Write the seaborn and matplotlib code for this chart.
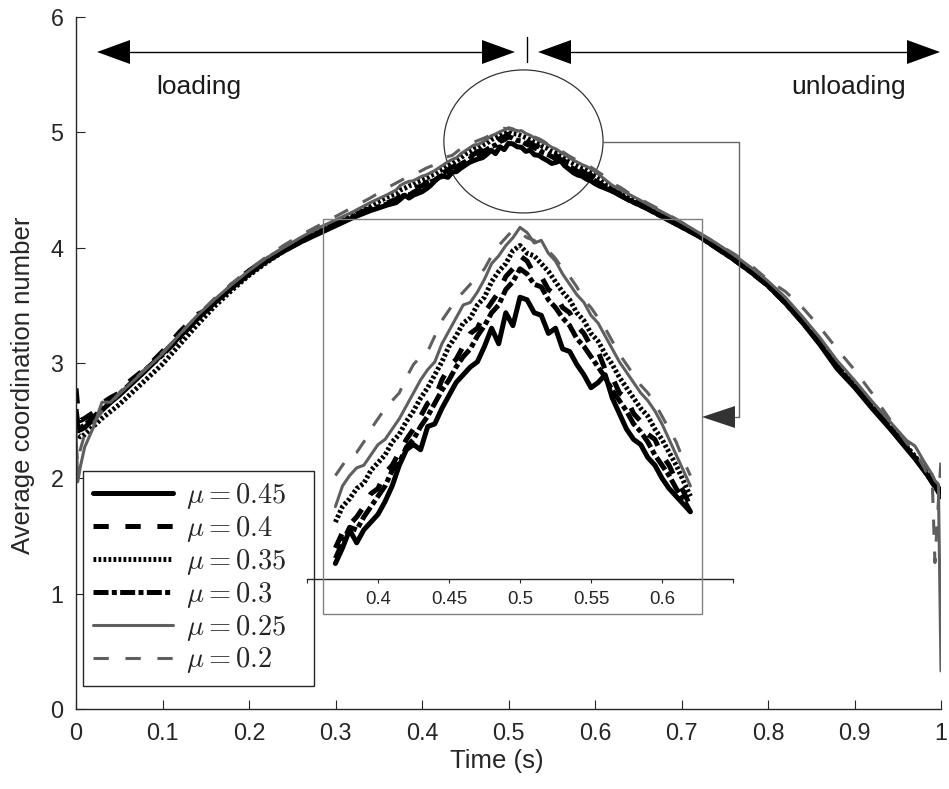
import numpy as np
import pandas as pd
import matplotlib
matplotlib.use("Agg")
import matplotlib.pyplot as plt
import seaborn as sns
from matplotlib.patches import Ellipse, Rectangle, Polygon
from matplotlib.lines import Line2D

# ---------------- data ----------------
time_left = [0, 0.002, 0.005, 0.01, 0.02, 0.03, 0.04, 0.05, 0.06, 0.08, 0.10, 0.12,
             0.14, 0.16, 0.18, 0.20, 0.22, 0.24, 0.26, 0.28, 0.30, 0.32, 0.34, 0.36]
time_mid = [0.370, 0.375, 0.380, 0.385, 0.390, 0.395, 0.400, 0.405, 0.410, 0.415,
            0.420, 0.425, 0.430, 0.435, 0.440, 0.445, 0.450, 0.455, 0.460, 0.465,
            0.470, 0.475, 0.480, 0.485, 0.490, 0.495, 0.500, 0.505, 0.510, 0.515,
            0.520, 0.525, 0.530, 0.535, 0.540, 0.545, 0.550, 0.555, 0.560, 0.565,
            0.570, 0.575, 0.580, 0.585, 0.590, 0.595, 0.600, 0.605, 0.610, 0.615, 0.620]
time_right = [0.63, 0.64, 0.66, 0.68, 0.70, 0.72, 0.74, 0.76, 0.78, 0.80, 0.82, 0.84,
              0.86, 0.88, 0.90, 0.92, 0.94, 0.96, 0.97, 0.98, 0.99, 0.993, 0.997, 1.0]

mu_labels = ["0.45", "0.4", "0.35", "0.3", "0.25", "0.2"]

cn_mu045 = ([2.55, 2.45, 2.42, 2.44, 2.51, 2.59, 2.66, 2.72, 2.79, 2.93, 3.08, 3.23,
             3.38, 3.52, 3.65, 3.77, 3.88, 3.97, 4.05, 4.12, 4.19, 4.26, 4.32, 4.37]
            + [4.39, 4.42, 4.455, 4.43, 4.455, 4.47, 4.485, 4.51, 4.54, 4.58,
               4.61, 4.62, 4.61, 4.655, 4.66, 4.69, 4.715, 4.74, 4.755, 4.77,
               4.78, 4.81, 4.845, 4.815, 4.875, 4.85, 4.905, 4.90, 4.875, 4.87,
               4.835, 4.845, 4.805, 4.80, 4.775, 4.755, 4.73, 4.74, 4.755, 4.71,
               4.68, 4.65, 4.63, 4.62, 4.595, 4.58, 4.555, 4.535, 4.52, 4.505, 4.49]
            + [4.45, 4.41, 4.34, 4.26, 4.18, 4.10, 4.00, 3.90, 3.79, 3.67, 3.52, 3.35,
               3.16, 2.95, 2.79, 2.61, 2.44, 2.26, 2.17, 2.07, 1.97, 1.93, 1.88, 1.84])
cn_mu040 = ([2.78, 2.62, 2.50, 2.52, 2.57, 2.65, 2.70, 2.74, 2.83, 2.95, 3.10, 3.27,
             3.42, 3.49, 3.68, 3.80, 3.90, 3.99, 4.06, 4.15, 4.22, 4.28, 4.34, 4.39]
            + [4.42, 4.45, 4.465, 4.48, 4.50, 4.525, 4.535, 4.565, 4.58, 4.605,
               4.63, 4.65, 4.675, 4.70, 4.71, 4.745, 4.77, 4.785, 4.81, 4.835,
               4.845, 4.875, 4.895, 4.915, 4.945, 4.96, 4.985, 4.975, 4.95, 4.945,
               4.92, 4.91, 4.885, 4.875, 4.85, 4.835, 4.81, 4.80, 4.765, 4.75,
               4.72, 4.71, 4.68, 4.665, 4.64, 4.63, 4.60, 4.58, 4.55, 4.53, 4.50]
            + [4.46, 4.42, 4.35, 4.27, 4.19, 4.11, 4.01, 3.91, 3.80, 3.68, 3.53, 3.36,
               3.17, 2.97, 2.80, 2.62, 2.45, 2.27, 2.18, 2.09, 1.99, 1.96, 1.92, 1.88])
cn_mu035 = ([2.50, 2.38, 2.36, 2.38, 2.45, 2.52, 2.58, 2.64, 2.71, 2.85, 2.99, 3.16,
             3.33, 3.49, 3.63, 3.76, 3.87, 3.97, 4.06, 4.14, 4.22, 4.29, 4.36, 4.44]
            + [4.47, 4.50, 4.515, 4.535, 4.545, 4.57, 4.585, 4.60, 4.625, 4.64,
               4.665, 4.685, 4.71, 4.73, 4.755, 4.78, 4.81, 4.83, 4.855, 4.865,
               4.89, 4.905, 4.935, 4.955, 4.97, 4.995, 5.005, 4.99, 4.985, 4.97,
               4.955, 4.935, 4.915, 4.90, 4.875, 4.86, 4.835, 4.82, 4.795, 4.775,
               4.75, 4.73, 4.71, 4.69, 4.675, 4.65, 4.63, 4.605, 4.58, 4.55, 4.52]
            + [4.48, 4.43, 4.36, 4.28, 4.20, 4.11, 4.02, 3.92, 3.81, 3.69, 3.54, 3.37,
               3.18, 2.98, 2.81, 2.63, 2.46, 2.28, 2.19, 2.09, 1.98, 1.94, 1.90, 1.86])
cn_mu030 = ([2.60, 2.48, 2.44, 2.46, 2.53, 2.60, 2.66, 2.73, 2.80, 2.94, 3.07, 3.22,
             3.38, 3.53, 3.66, 3.78, 3.88, 3.97, 4.05, 4.13, 4.20, 4.27, 4.33, 4.38]
            + [4.40, 4.43, 4.46, 4.455, 4.48, 4.50, 4.52, 4.54, 4.57, 4.585,
               4.615, 4.63, 4.655, 4.675, 4.70, 4.725, 4.745, 4.77, 4.79, 4.805,
               4.83, 4.85, 4.875, 4.89, 4.92, 4.935, 4.96, 4.95, 4.93, 4.925,
               4.90, 4.885, 4.865, 4.85, 4.825, 4.81, 4.79, 4.77, 4.75, 4.725,
               4.705, 4.685, 4.66, 4.645, 4.625, 4.60, 4.58, 4.56, 4.535, 4.515, 4.49]
            + [4.45, 4.41, 4.34, 4.26, 4.18, 4.10, 4.00, 3.90, 3.79, 3.67, 3.52, 3.35,
               3.17, 2.96, 2.80, 2.62, 2.45, 2.27, 2.18, 2.08, 1.96, 1.93, 1.89, 1.85])
cn_mu025 = ([2.40, 1.97, 2.10, 2.27, 2.44, 2.66, 2.66, 2.74, 2.80, 2.94, 3.08, 3.25,
             3.41, 3.55, 3.68, 3.80, 3.91, 4.00, 4.09, 4.17, 4.24, 4.31, 4.39, 4.46]
            + [4.50, 4.54, 4.56, 4.575, 4.58, 4.60, 4.62, 4.63, 4.65, 4.67,
               4.695, 4.72, 4.745, 4.765, 4.78, 4.815, 4.84, 4.865, 4.89, 4.895,
               4.915, 4.94, 4.97, 4.985, 5.005, 5.02, 5.04, 5.03, 5.01, 5.015,
               4.99, 4.975, 4.95, 4.93, 4.91, 4.895, 4.87, 4.855, 4.83, 4.805,
               4.78, 4.76, 4.74, 4.72, 4.705, 4.685, 4.66, 4.63, 4.60, 4.57, 4.54]
            + [4.50, 4.46, 4.38, 4.30, 4.22, 4.13, 4.04, 3.94, 3.83, 3.71, 3.57, 3.40,
               3.22, 3.02, 2.85, 2.67, 2.50, 2.33, 2.28, 2.15, 2.03, 1.98, 1.95, 0.33])
cn_mu020 = ([2.30, 2.13, 2.25, 2.38, 2.48, 2.58, 2.65, 2.73, 2.80, 2.95, 3.09, 3.25,
             3.41, 3.56, 3.69, 3.81, 3.92, 4.02, 4.11, 4.19, 4.27, 4.35, 4.43, 4.52]
            + [4.56, 4.58, 4.60, 4.605, 4.625, 4.65, 4.67, 4.69, 4.705, 4.72,
               4.75, 4.775, 4.79, 4.80, 4.83, 4.86, 4.88, 4.90, 4.915, 4.93,
               4.945, 4.96, 4.985, 5.005, 5.02, 5.035, 5.03, 5.02, 5.015, 5.00,
               4.995, 4.98, 4.96, 4.945, 4.925, 4.90, 4.885, 4.865, 4.845, 4.82,
               4.795, 4.775, 4.755, 4.735, 4.72, 4.70, 4.675, 4.65, 4.625, 4.59, 4.56]
            + [4.52, 4.47, 4.39, 4.31, 4.22, 4.13, 4.04, 3.95, 3.85, 3.72, 3.62, 3.48,
               3.31, 3.12, 2.94, 2.74, 2.52, 2.31, 2.23, 2.10, 1.95, 1.27, 1.80, 2.16])

time_s = time_left + time_mid + time_right
series = [cn_mu045, cn_mu040, cn_mu035, cn_mu030, cn_mu025, cn_mu020]
for s in series:
    assert len(s) == len(time_s)

df = pd.DataFrame({
    "time": time_s * len(series),
    "cn": sum(series, []),
    "mu": sum([[m] * len(time_s) for m in mu_labels], []),
})

# ---------------- style ----------------
sns.set_theme(style="ticks")
plt.rcParams["font.family"] = ["Liberation Sans", "DejaVu Sans"]
plt.rcParams["mathtext.fontset"] = "cm"
plt.rcParams["lines.scale_dashes"] = False

GRAY = "#5f5f5f"
AX_C = "#262626"
line_styles = {
    "0.45": dict(color="black", linewidth=3.6, linestyle="-"),
    "0.4": dict(color="black", linewidth=3.6, linestyle=(0, (11, 12))),
    "0.35": dict(color="black", linewidth=3.6, linestyle=(0, (2, 1.6))),
    "0.3": dict(color="black", linewidth=3.6, linestyle=(0, (10.8, 2.4, 3.6, 2.4))),
    "0.25": dict(color=GRAY, linewidth=2.2, linestyle="-"),
    "0.2": dict(color=GRAY, linewidth=2.2, linestyle=(0, (11, 12))),
}

W, H = 949, 789
fig = plt.figure(figsize=(W / 100, H / 100), dpi=100)


def fx(x):
    return x / W


def fy(y):
    return 1 - y / H


# ---------------- main axes ----------------
ax = fig.add_axes([fx(76), fy(709), (941 - 76) / W, (709 - 17) / H])
for m in mu_labels:
    sub = df[df["mu"] == m]
    sns.lineplot(data=sub, x="time", y="cn", ax=ax, estimator=None, sort=False,
                 legend=False, **line_styles[m])

ax.set_xlim(0, 1)
ax.set_ylim(0, 6)
xt = [0, 0.1, 0.2, 0.3, 0.4, 0.5, 0.6, 0.7, 0.8, 0.9, 1]
ax.set_xticks(xt, ["0", "0.1", "0.2", "0.3", "0.4", "0.5", "0.6", "0.7", "0.8", "0.9", "1"])
ax.set_yticks([0, 1, 2, 3, 4, 5, 6], ["0", "1", "2", "3", "4", "5", "6"])
for sp in ["top", "right"]:
    ax.spines[sp].set_visible(False)
for sp in ["left", "bottom"]:
    ax.spines[sp].set_color(AX_C)
    ax.spines[sp].set_linewidth(1.0)
ax.tick_params(direction="in", length=6.8, width=0.8, colors=AX_C, labelsize=16.8,
               pad=9, bottom=True, left=True, top=False, right=False)
ax.set_xlabel("Time (s)", fontsize=18.5, color=AX_C, va="center")
ax.set_ylabel("Average coordination number", fontsize=18.5, color=AX_C, va="center")
ax.xaxis.set_label_coords(0.486, (709 - 761) / 692)
ax.yaxis.set_label_coords((23 - 76) / 865, (709 - 385) / 692)

# highlight ellipse
ax.add_patch(Ellipse((0.5173, 4.921), 0.184, 1.24, fill=False, edgecolor="#333333", lw=0.9))

# legend
handles = [Line2D([], [], **line_styles[m]) for m in mu_labels]
labels = [r"$\mu = %s$   " % m for m in mu_labels]
leg = ax.legend(handles, labels, loc="upper left", bbox_to_anchor=(fx(83), fy(471)),
                bbox_transform=fig.transFigure, borderaxespad=0, fontsize=20.5,
                handlelength=2.8, handletextpad=0.45, labelspacing=0.1, borderpad=0.36,
                frameon=True, fancybox=False, edgecolor=AX_C, framealpha=1)
leg.get_frame().set_linewidth(1.0)

# ---------------- inset axes ----------------
ax_in = fig.add_axes([fx(307), fy(579), 426 / W, 360 / H])
ax_in.patch.set_alpha(0)
sub_in = df[(df["time"] >= 0.37) & (df["time"] <= 0.62)]
for m in mu_labels:
    sub = sub_in[sub_in["mu"] == m]
    sns.lineplot(data=sub, x="time", y="cn", ax=ax_in, estimator=None, sort=False,
                 legend=False, **line_styles[m])
ax_in.set_xlim(0.35, 0.65)
ax_in.set_ylim(4.36, 4.36 + 360 / 517)
ax_in.set_xticks([0.35, 0.4, 0.45, 0.5, 0.55, 0.6, 0.65],
                 ["", "0.4", "0.45", "0.5", "0.55", "0.6", ""])
ax_in.set_yticks([])
ax_in.set_xlabel("")
ax_in.set_ylabel("")
for sp in ["top", "right", "left"]:
    ax_in.spines[sp].set_visible(False)
ax_in.spines["bottom"].set_color(AX_C)
ax_in.spines["bottom"].set_linewidth(1.0)
ax_in.tick_params(axis="x", direction="out", length=3, width=0.8, colors=AX_C,
                  labelsize=13.4, pad=6)

# ---------------- annotations (figure pixels) ----------------
fig.add_artist(Rectangle((fx(323), fy(614)), 379 / W, 395 / H, transform=fig.transFigure,
                         fill=False, edgecolor="#808080", lw=1.0))
fig.add_artist(Line2D([fx(603), fx(739), fx(739), fx(735)], [fy(142), fy(142), fy(417), fy(417)],
                      transform=fig.transFigure, color="#666666", lw=1.0))
fig.add_artist(Polygon([(fx(702), fy(417)), (fx(735), fy(406)), (fx(735), fy(428))],
                       closed=True, transform=fig.transFigure, facecolor="#333333",
                       edgecolor="none"))

ya = 52
hl, hw = 33, 12
for x0, x1 in [(97, 515), (538, 940)]:
    fig.add_artist(Line2D([fx(x0 + hl), fx(x1 - hl)], [fy(ya), fy(ya)],
                          transform=fig.transFigure, color="black", lw=1.0))
    fig.add_artist(Polygon([(fx(x0), fy(ya)), (fx(x0 + hl), fy(ya - hw)), (fx(x0 + hl), fy(ya + hw))],
                           closed=True, transform=fig.transFigure, facecolor="black",
                           edgecolor="none"))
    fig.add_artist(Polygon([(fx(x1), fy(ya)), (fx(x1 - hl), fy(ya - hw)), (fx(x1 - hl), fy(ya + hw))],
                           closed=True, transform=fig.transFigure, facecolor="black",
                           edgecolor="none"))
fig.add_artist(Line2D([fx(527), fx(527)], [fy(37), fy(62)], transform=fig.transFigure,
                      color="black", lw=1.0))
fig.text(fx(199), fy(87), "loading", ha="center", va="center", fontsize=19, color="#1a1a1a")
fig.text(fx(849), fy(87), "unloading", ha="center", va="center", fontsize=19, color="#1a1a1a")

fig.savefig("out.png", dpi=100)
